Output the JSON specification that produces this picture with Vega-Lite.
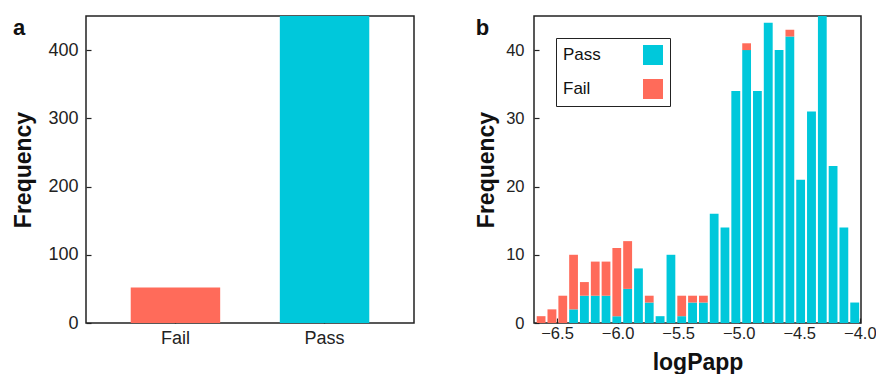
{
  "$schema": "https://vega.github.io/schema/vega-lite/v6.json",
  "padding": {"left": 12, "top": 15, "right": 0, "bottom": 0},
  "spacing": 59,
  "resolve": {"scale": {"color": "independent"}, "legend": {"color": "independent"}},
  "config": {
    "font": "Liberation Sans",
    "view": {"stroke": "#222", "strokeWidth": 1.5},
    "axis": {
      "domain": false, "grid": false, "tickSize": -5, "tickColor": "#222", "tickWidth": 1.2,
      "labelColor": "#222", "titleColor": "#111", "titleFontWeight": "bold", "titleFontSize": 23
    },
    "title": {"anchor": "start", "frame": "bounds", "fontSize": 22, "fontWeight": "bold", "color": "#111", "offset": -24, "baseline": "alphabetic"}
  },
  "hconcat": [
    {
      "title": "a",
      "width": 328,
      "height": 307,
      "data": {"values": [
        {"status": "Fail", "count": 52},
        {"status": "Pass", "count": 452}
      ]},
      "mark": {"type": "bar", "clip": true},
      "encoding": {
        "x": {"field": "status", "type": "nominal", "sort": ["Fail", "Pass"],
              "scale": {"paddingInner": 0.4, "paddingOuter": 0.3},
              "axis": {"title": null, "labelAngle": 0, "labelFontSize": 18, "labelPadding": 11.5}},
        "y": {"field": "count", "type": "quantitative",
              "scale": {"domain": [0, 450], "nice": false},
              "axis": {"title": "Frequency", "values": [0, 100, 200, 300, 400], "labelFontSize": 18, "labelPadding": 13, "titlePadding": 12}},
        "color": {"field": "status", "type": "nominal",
                  "scale": {"domain": ["Pass", "Fail"], "range": ["#00c8db", "#ff6b5a"]}, "legend": null}
      }
    },
    {
      "title": "b",
      "width": 327,
      "height": 307,
      "data": {"values": [
        {"bin_start": -6.680, "bin_end": -6.591, "status": "Fail", "count": 1},
        {"bin_start": -6.591, "bin_end": -6.501, "status": "Fail", "count": 2},
        {"bin_start": -6.501, "bin_end": -6.412, "status": "Fail", "count": 4},
        {"bin_start": -6.412, "bin_end": -6.323, "status": "Pass", "count": 2},
        {"bin_start": -6.412, "bin_end": -6.323, "status": "Fail", "count": 8},
        {"bin_start": -6.323, "bin_end": -6.233, "status": "Pass", "count": 4},
        {"bin_start": -6.323, "bin_end": -6.233, "status": "Fail", "count": 2},
        {"bin_start": -6.233, "bin_end": -6.144, "status": "Pass", "count": 4},
        {"bin_start": -6.233, "bin_end": -6.144, "status": "Fail", "count": 5},
        {"bin_start": -6.144, "bin_end": -6.055, "status": "Pass", "count": 4},
        {"bin_start": -6.144, "bin_end": -6.055, "status": "Fail", "count": 5},
        {"bin_start": -6.055, "bin_end": -5.966, "status": "Pass", "count": 1},
        {"bin_start": -6.055, "bin_end": -5.966, "status": "Fail", "count": 10},
        {"bin_start": -5.966, "bin_end": -5.876, "status": "Pass", "count": 5},
        {"bin_start": -5.966, "bin_end": -5.876, "status": "Fail", "count": 7},
        {"bin_start": -5.876, "bin_end": -5.787, "status": "Pass", "count": 8},
        {"bin_start": -5.787, "bin_end": -5.698, "status": "Pass", "count": 3},
        {"bin_start": -5.787, "bin_end": -5.698, "status": "Fail", "count": 1},
        {"bin_start": -5.698, "bin_end": -5.608, "status": "Pass", "count": 1},
        {"bin_start": -5.608, "bin_end": -5.519, "status": "Pass", "count": 10},
        {"bin_start": -5.519, "bin_end": -5.430, "status": "Pass", "count": 1},
        {"bin_start": -5.519, "bin_end": -5.430, "status": "Fail", "count": 3},
        {"bin_start": -5.430, "bin_end": -5.340, "status": "Pass", "count": 3},
        {"bin_start": -5.430, "bin_end": -5.340, "status": "Fail", "count": 1},
        {"bin_start": -5.340, "bin_end": -5.251, "status": "Pass", "count": 3},
        {"bin_start": -5.340, "bin_end": -5.251, "status": "Fail", "count": 1},
        {"bin_start": -5.251, "bin_end": -5.162, "status": "Pass", "count": 16},
        {"bin_start": -5.162, "bin_end": -5.073, "status": "Pass", "count": 14},
        {"bin_start": -5.073, "bin_end": -4.983, "status": "Pass", "count": 34},
        {"bin_start": -4.983, "bin_end": -4.894, "status": "Pass", "count": 40},
        {"bin_start": -4.983, "bin_end": -4.894, "status": "Fail", "count": 1},
        {"bin_start": -4.894, "bin_end": -4.805, "status": "Pass", "count": 34},
        {"bin_start": -4.805, "bin_end": -4.715, "status": "Pass", "count": 44},
        {"bin_start": -4.715, "bin_end": -4.626, "status": "Pass", "count": 40},
        {"bin_start": -4.626, "bin_end": -4.537, "status": "Pass", "count": 42},
        {"bin_start": -4.626, "bin_end": -4.537, "status": "Fail", "count": 1},
        {"bin_start": -4.537, "bin_end": -4.448, "status": "Pass", "count": 21},
        {"bin_start": -4.448, "bin_end": -4.358, "status": "Pass", "count": 31},
        {"bin_start": -4.358, "bin_end": -4.269, "status": "Pass", "count": 47},
        {"bin_start": -4.269, "bin_end": -4.180, "status": "Pass", "count": 23},
        {"bin_start": -4.180, "bin_end": -4.091, "status": "Pass", "count": 14},
        {"bin_start": -4.091, "bin_end": -4.001, "status": "Pass", "count": 3}
      ]},
      "mark": {"type": "bar", "clip": true, "binSpacing": 2},
      "encoding": {
        "x": {"field": "bin_start", "type": "quantitative", "bin": {"binned": true},
              "scale": {"domain": [-6.69, -3.99], "nice": false, "zero": false},
              "axis": {"title": "logPapp", "values": [-6.5, -6, -5.5, -5, -4.5, -4], "format": ".1f",
                       "labelFontSize": 16.5, "labelPadding": 7, "titlePadding": 10}},
        "x2": {"field": "bin_end"},
        "y": {"field": "count", "type": "quantitative", "stack": "zero",
              "scale": {"domain": [0, 45], "nice": false},
              "axis": {"title": "Frequency", "values": [0, 10, 20, 30, 40], "labelFontSize": 16.5, "labelPadding": 15, "titlePadding": 7}},
        "color": {"field": "status", "type": "nominal",
                  "scale": {"domain": ["Pass", "Fail"], "range": ["#00c8db", "#ff6b5a"]},
                  "legend": {"title": null, "orient": "top-left", "offset": 22, "symbolType": "square",
                             "symbolSize": 400, "symbolStrokeWidth": 0, "labelFontSize": 17, "labelColor": "#111",
                             "symbolOffset": 80, "labelOffset": -100, "rowPadding": 14, "padding": 7,
                             "strokeColor": "#222", "fillColor": "white"}},
        "order": {"field": "status", "sort": "descending"}
      }
    }
  ]
}
